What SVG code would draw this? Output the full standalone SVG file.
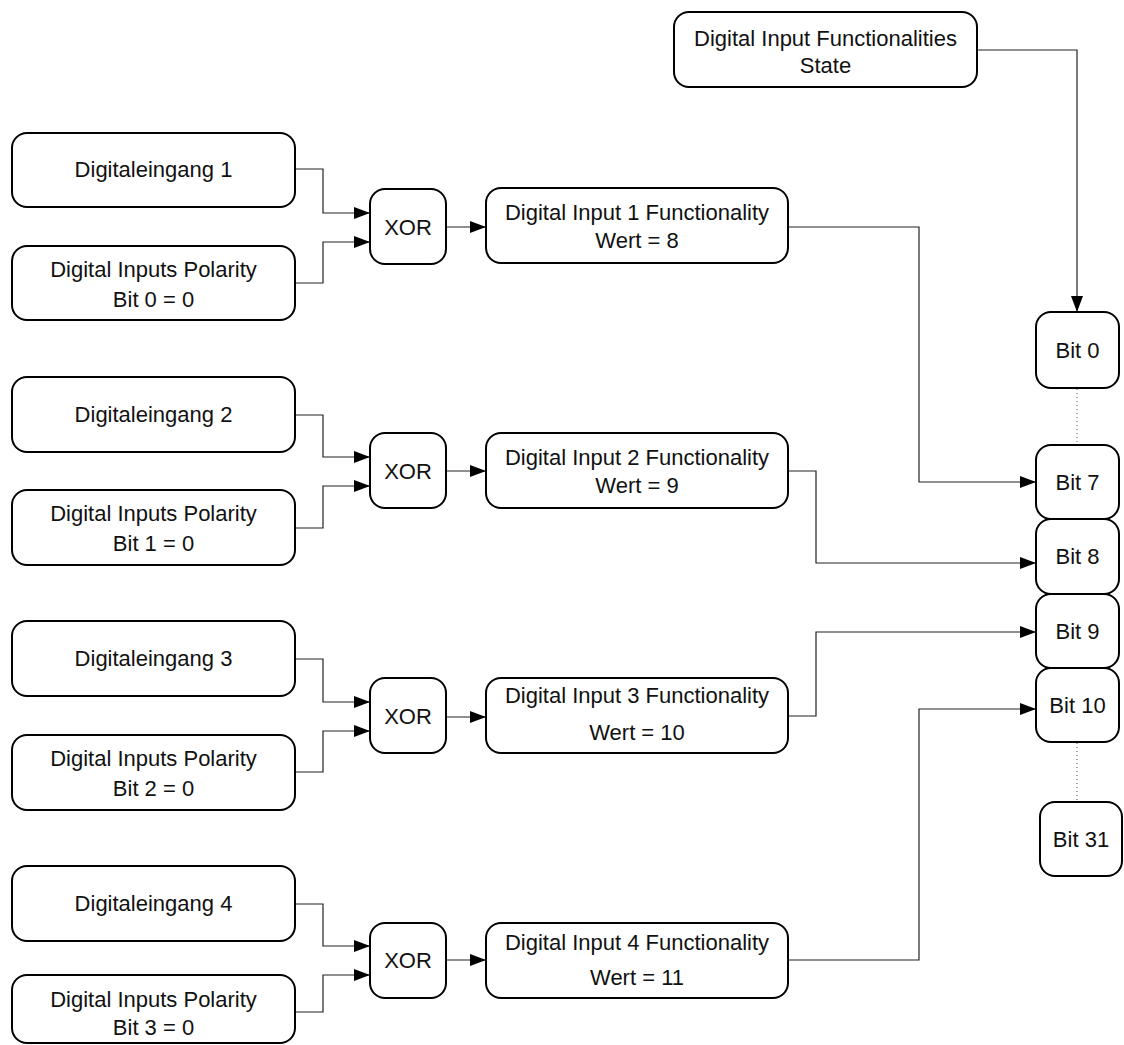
<svg xmlns="http://www.w3.org/2000/svg" width="1124" height="1045" viewBox="0 0 1124 1045">
<defs>
<style>
.box{fill:#fff;stroke:#000;stroke-width:2}
.t{font-family:"Liberation Sans",Arial,sans-serif;font-size:22px;fill:#111;text-anchor:middle}
.c{fill:none;stroke:#222;stroke-width:1.2}
.dot{fill:none;stroke:#555;stroke-width:1;stroke-dasharray:1 3}
</style>
<marker id="ah" markerUnits="userSpaceOnUse" markerWidth="16" markerHeight="12" refX="16" refY="6" orient="auto">
<path d="M0,0 L16,6 L0,12 Z" fill="#000"/>
</marker>
</defs>
<rect width="1124" height="1045" fill="#fff"/>

<g id="connectors">
<path class="c" marker-end="url(#ah)" d="M977,50 H1077 V312"/>
<path class="c" marker-end="url(#ah)" d="M295,169 H323 V213 H370"/>
<path class="c" marker-end="url(#ah)" d="M295,283 H323 V242 H370"/>
<path class="c" marker-end="url(#ah)" d="M446,227 H486"/>
<path class="c" marker-end="url(#ah)" d="M788,227 H919 V482 H1036"/>
<path class="c" marker-end="url(#ah)" d="M295,415 H323 V457 H370"/>
<path class="c" marker-end="url(#ah)" d="M295,528 H323 V486 H370"/>
<path class="c" marker-end="url(#ah)" d="M446,471 H486"/>
<path class="c" marker-end="url(#ah)" d="M788,471 H816 V563 H1036"/>
<path class="c" marker-end="url(#ah)" d="M295,659 H323 V702 H370"/>
<path class="c" marker-end="url(#ah)" d="M295,772 H323 V731 H370"/>
<path class="c" marker-end="url(#ah)" d="M446,717 H486"/>
<path class="c" marker-end="url(#ah)" d="M788,716 H816 V632 H1036"/>
<path class="c" marker-end="url(#ah)" d="M295,904 H323 V946 H370"/>
<path class="c" marker-end="url(#ah)" d="M295,1012 H323 V975 H370"/>
<path class="c" marker-end="url(#ah)" d="M446,960 H486"/>
<path class="c" marker-end="url(#ah)" d="M788,960 H919 V709 H1036"/>
<path class="dot" d="M1077,389 V445"/>
<path class="dot" d="M1077,743 V801"/>
</g>

<g id="state"><rect class="box" x="674" y="12" width="303" height="75" rx="15"/><text class="t" x="825.5" y="46">Digital Input Functionalities</text><text class="t" x="825.5" y="73">State</text></g>

<g id="dig1"><rect class="box" x="12" y="133" width="283" height="74" rx="15"/><text class="t" x="153.5" y="177">Digitaleingang 1</text></g>
<g id="pol1"><rect class="box" x="12" y="246" width="283" height="74" rx="15"/><text class="t" x="153.5" y="277">Digital Inputs Polarity</text><text class="t" x="153.5" y="307">Bit 0 = 0</text></g>
<g id="xor1"><rect class="box" x="370" y="189" width="76" height="75" rx="15"/><text class="t" x="408" y="235">XOR</text></g>
<g id="func1"><rect class="box" x="486" y="188" width="302" height="75" rx="15"/><text class="t" x="637" y="220">Digital Input 1 Functionality</text><text class="t" x="637" y="248">Wert = 8</text></g>

<g id="dig2"><rect class="box" x="12" y="377" width="283" height="75" rx="15"/><text class="t" x="153.5" y="422">Digitaleingang 2</text></g>
<g id="pol2"><rect class="box" x="12" y="490" width="283" height="75" rx="15"/><text class="t" x="153.5" y="521">Digital Inputs Polarity</text><text class="t" x="153.5" y="551">Bit 1 = 0</text></g>
<g id="xor2"><rect class="box" x="370" y="433" width="76" height="75" rx="15"/><text class="t" x="408" y="479">XOR</text></g>
<g id="func2"><rect class="box" x="486" y="433" width="302" height="75" rx="15"/><text class="t" x="637" y="465">Digital Input 2 Functionality</text><text class="t" x="637" y="493">Wert = 9</text></g>

<g id="dig3"><rect class="box" x="12" y="621" width="283" height="75" rx="15"/><text class="t" x="153.5" y="666">Digitaleingang 3</text></g>
<g id="pol3"><rect class="box" x="12" y="735" width="283" height="75" rx="15"/><text class="t" x="153.5" y="766">Digital Inputs Polarity</text><text class="t" x="153.5" y="796">Bit 2 = 0</text></g>
<g id="xor3"><rect class="box" x="370" y="678" width="76" height="75" rx="15"/><text class="t" x="408" y="724">XOR</text></g>
<g id="func3"><rect class="box" x="486" y="678" width="302" height="75" rx="15"/><text class="t" x="637" y="703">Digital Input 3 Functionality</text><text class="t" x="637" y="740">Wert = 10</text></g>

<g id="dig4"><rect class="box" x="12" y="866" width="283" height="75" rx="15"/><text class="t" x="153.5" y="911">Digitaleingang 4</text></g>
<g id="pol4"><rect class="box" x="12" y="975" width="283" height="68" rx="15"/><text class="t" x="153.5" y="1007">Digital Inputs Polarity</text><text class="t" x="153.5" y="1035">Bit 3 = 0</text></g>
<g id="xor4"><rect class="box" x="370" y="923" width="76" height="75" rx="15"/><text class="t" x="408" y="968">XOR</text></g>
<g id="func4"><rect class="box" x="486" y="923" width="302" height="75" rx="15"/><text class="t" x="637" y="950">Digital Input 4 Functionality</text><text class="t" x="637" y="985">Wert = 11</text></g>

<g id="bit0"><rect class="box" x="1036" y="312" width="83" height="76" rx="15"/><text class="t" x="1077.5" y="358">Bit 0</text></g>
<g id="bit7"><rect class="box" x="1036" y="445" width="83" height="74" rx="15"/><text class="t" x="1077.5" y="490">Bit 7</text></g>
<g id="bit8"><rect class="box" x="1036" y="519" width="83" height="75" rx="15"/><text class="t" x="1077.5" y="564">Bit 8</text></g>
<g id="bit9"><rect class="box" x="1036" y="594" width="83" height="74" rx="15"/><text class="t" x="1077.5" y="639">Bit 9</text></g>
<g id="bit10"><rect class="box" x="1036" y="668" width="83" height="74" rx="15"/><text class="t" x="1077.5" y="713">Bit 10</text></g>
<g id="bit31"><rect class="box" x="1040" y="802" width="82" height="74" rx="15"/><text class="t" x="1081" y="847">Bit 31</text></g>
</svg>
